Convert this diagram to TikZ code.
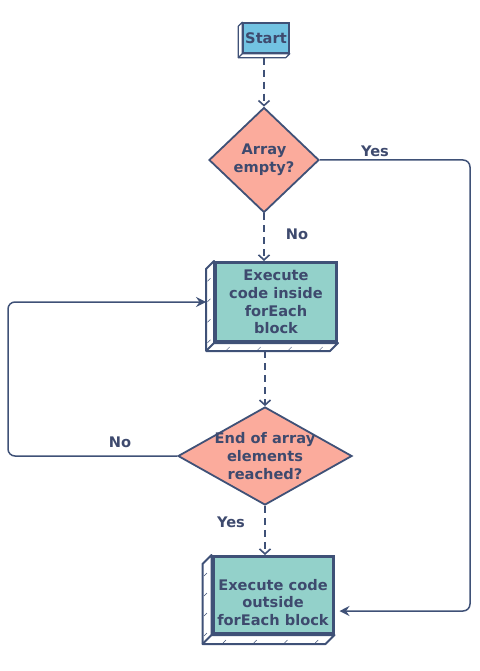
\documentclass[tikz,border=0pt]{standalone}
\usepackage{fontspec}
\setmainfont{DejaVu Sans}
\usetikzlibrary{shapes.geometric,arrows.meta,backgrounds,calc}
\definecolor{ink}{HTML}{3F5177}
\definecolor{txtc}{HTML}{3E4A6E}
\definecolor{startc}{HTML}{72C3E2}
\definecolor{decc}{HTML}{FBAB9C}
\definecolor{boxc}{HTML}{93D1CA}
\newcommand\myextrude[4]{%
  \begin{scope}[on background layer]
  \draw[ink, line width=#3, fill=white, line join=round]
    (#1.north west) -- ([shift={(-#2,#2)}]#1.north west) -- ([shift={(-#2,#2)}]#1.south west)
    -- ([shift={(-#2,#2)}]#1.south east) -- (#1.south east) -- (#1.south west) -- cycle;
  \draw[ink, line width=#3] (#1.south west) -- ([shift={(-#2,#2)}]#1.south west);
  \foreach \t in {#4}{
    \draw[ink, line width=0.5pt] ($([shift={(-#2,#2)}]#1.north west)!\t!([shift={(-#2,#2)}]#1.south west)+(1.5,0)$) -- ++(3,-3);
    \draw[ink, line width=0.5pt] ($([shift={(-#2,#2)}]#1.south west)!\t!([shift={(-#2,#2)}]#1.south east)+(2,-1)$) -- ++(3,-3);
  }
  \end{scope}}
\begin{document}
\begin{tikzpicture}[x=1pt,y=-1pt,
  txt/.style={font=\bfseries\fontsize{14.6}{17.8}\selectfont, text=txtc, align=center},
  startbox/.style={draw=ink, line width=1.5pt, fill=startc, inner sep=0pt, txt},
  frontbox/.style={draw=ink, line width=3pt, fill=boxc, inner sep=0pt, txt},
  decision/.style={diamond, draw=ink, line width=1.8pt, fill=decc, inner sep=0pt, txt},
  dashline/.style={draw=ink, line width=2pt, dash pattern=on 7pt off 5pt,
    -{Straight Barb[length=5pt,width=11pt,line width=1.6pt]}},
  flow/.style={draw=ink, line width=1.5pt, rounded corners=7pt,
    -{Stealth[length=10pt,width=10pt,inset=3.5pt]}},
  lbl/.style={txt}]
\useasboundingbox (0,0) rectangle (479,671);

\node[startbox, minimum width=46, minimum height=30] (start) at (266,38) {Start};
\node[decision, aspect=1, minimum width=110, minimum height=105] (d1) at (264,160) {Array\\empty?};
\node[frontbox, minimum width=121, minimum height=79] (b1) at (276,302) {Execute\\code inside\\forEach\\block};
\node[decision, aspect=1.78, minimum width=174, minimum height=98, inner sep=-5pt] (d2) at (265,456) {End of array\\elements\\reached?};
\node[frontbox, minimum width=120, minimum height=77] (b2) at (273,595) {\rule{0pt}{26pt}Execute code\\outside\\forEach block};

\myextrude{start}{4}{1.2pt}{}
\myextrude{b1}{8}{2pt}{0.15,0.4,0.65,0.9}
\myextrude{b2}{9}{2pt}{0.15,0.4,0.65,0.9}

\path (start.south) ++(0,4) coordinate (sb);
\path (b1.south) ++(0,8) coordinate (b1b);
\coordinate (lc) at (8,0);
\coordinate (rc) at (470,0);

\draw[dashline] (d1.north |- sb) -- (d1.north);
\draw[dashline] (d1.south) -- (d1.south |- b1.north);
\draw[dashline] (d2.north |- b1b) -- (d2.north);
\draw[dashline] (d2.south) -- (d2.south |- b2.north);

\draw[flow] (d1.east) -- (d1.east -| rc) |- ([shift={(5,16)}]b2.east);
\draw[flow] (d2.west) -- (d2.west -| lc) |- ([xshift=-8pt]b1.west);

\node[lbl] (yes1) at (375,151) {Yes};
\node[lbl] (no1) at (297,234) {No};
\node[lbl] (no2) at (120,442) {No};
\node[lbl] (yes2) at (231,522) {Yes};
\end{tikzpicture}
\end{document}
